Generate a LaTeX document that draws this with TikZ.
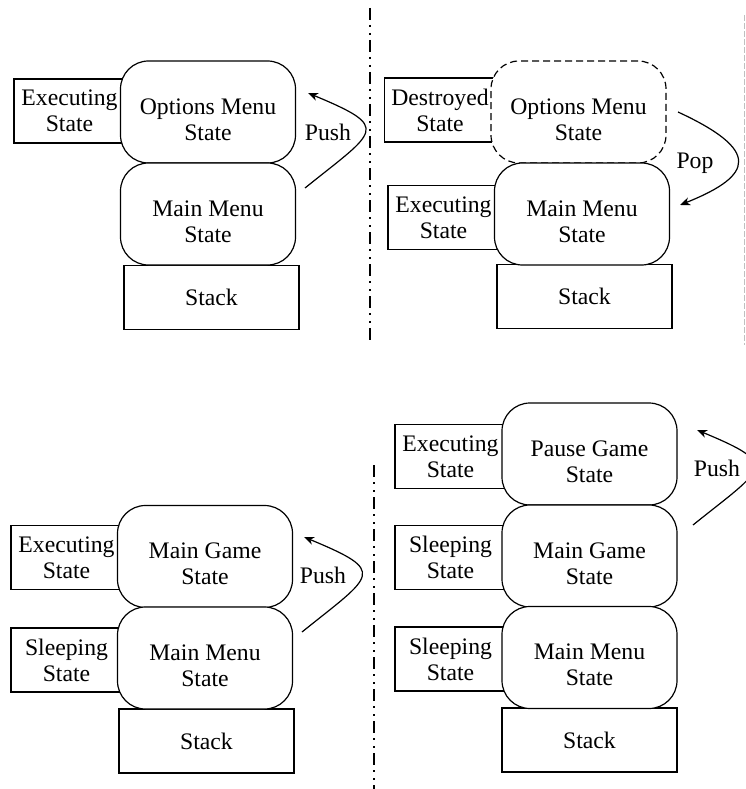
\documentclass[tikz,border=0pt]{standalone}
\usepackage{fontspec}
\setmainfont{Liberation Serif}
\usetikzlibrary{arrows.meta}

\begin{document}
\begin{tikzpicture}[
    x=1pt, y=-1pt,
    statebox/.style={rectangle, rounded corners=28pt, draw=black, line width=1.2pt, fill=white,
                minimum width=175pt, minimum height=102pt,
                text height=56pt, text depth=0pt,
                align=center, font=\fontsize{23.7}{26}\selectfont},
    gonebox/.style={statebox, dash pattern=on 7pt off 4pt},
    sidebox/.style={rectangle, draw=black, line width=1.2pt, fill=white,
                minimum width=111pt, minimum height=64pt,
                align=center, font=\fontsize{23.7}{26}\selectfont},
    stackbox/.style={rectangle, draw=black, line width=1.2pt, fill=white,
                minimum width=175pt, minimum height=64pt, font=\fontsize{23.7}{26}\selectfont},
    move/.style={-{Stealth[length=10pt, width=8pt, inset=3pt]}, line width=1.2pt},
    tag/.style={font=\fontsize{23.7}{26}\selectfont},
    divider/.style={line width=1.8pt, dash pattern=on 12pt off 5pt on 2pt off 6pt on 2pt off 5pt},
    faint/.style={draw=black!25, line width=0.8pt, dash pattern=on 6pt off 2pt}
]
\useasboundingbox (0,0) rectangle (745,789);

% Top left: push options menu
\node[sidebox]  (aexec)  at (69.5,111)   {Executing\\State};
\node[stackbox] (astack) at (211.5,297.5) {Stack};
\node[statebox] (aopt)   at (208,112)    {Options Menu\\State};
\node[statebox] (amain)  at (208,214)    {Main Menu\\State};

% Top right: pop options menu
\node[sidebox]  (bdest)  at (440,110)    {Destroyed\\State};
\node[sidebox]  (bexec)  at (443.5,217.5) {Executing\\State};
\node[stackbox] (bstack) at (584.5,296.5) {Stack};
\node[gonebox]  (bopt)   at (578.5,112)  {Options Menu\\State};
\node[statebox] (bmain)  at (582,214)    {Main Menu\\State};

% Bottom left: push main game
\node[sidebox]  (cexec)  at (66.5,557.5) {Executing\\State};
\node[sidebox]  (csleep) at (66.5,660)   {Sleeping\\State};
\node[stackbox] (cstack) at (206.5,741)  {Stack};
\node[statebox] (cgame)  at (205,556.5)  {Main Game\\State};
\node[statebox] (cmain)  at (205,658)    {Main Menu\\State};

% Bottom right: push pause game
\node[sidebox]  (dexec)   at (450.5,456.5) {Executing\\State};
\node[sidebox]  (dsleepa) at (450.5,557.5) {Sleeping\\State};
\node[sidebox]  (dsleepb) at (450.5,659)   {Sleeping\\State};
\node[stackbox] (dstack)  at (589.5,740)   {Stack};
\node[statebox] (dpause)  at (589.5,454)   {Pause Game\\State};
\node[statebox] (dgame)   at (589.5,556)   {Main Game\\State};
\node[statebox] (dmain)   at (589.5,657.5) {Main Menu\\State};

% Arrow ends
\coordinate (apushs) at (305,188);
\coordinate (apushe) at (308,93);
\coordinate (bpops)  at (678,112);
\coordinate (bpope)  at (680,205);
\coordinate (cpushs) at (302,632);
\coordinate (cpushe) at (304,537);
\coordinate (dpushs) at (693,525);
\coordinate (dpushe) at (697,430);

% Push / pop arrows
\draw[move] (apushs) .. controls +(72,-58) and +(84,35) .. (apushe);
\draw[move] (bpops)  .. controls +(82,38) and +(75,-30) .. (bpope);
\draw[move] (cpushs) .. controls +(72,-58) and +(84,35) .. (cpushe);
\draw[move] (dpushs) .. controls +(72,-58) and +(84,35) .. (dpushe);
\node[tag] (apush) at (328,132) {Push};
\node[tag] (bpop)  at (695,163) {Pop};
\node[tag] (cpush) at (323,575) {Push};
\node[tag] (dpush) at (717,468) {Push};

% Separators
\coordinate (sepat) at (370,8);
\coordinate (sepab) at (370,340);
\coordinate (sepct) at (374,465);
\coordinate (sepcb) at (374,789);
\coordinate (sepbt) at (744,15);
\coordinate (sepbb) at (744,345);
\draw[divider] (sepat) -- (sepab);
\draw[divider] (sepct) -- (sepcb);
\draw[faint]   (sepbt) -- (sepbb);

\end{tikzpicture}
\end{document}
